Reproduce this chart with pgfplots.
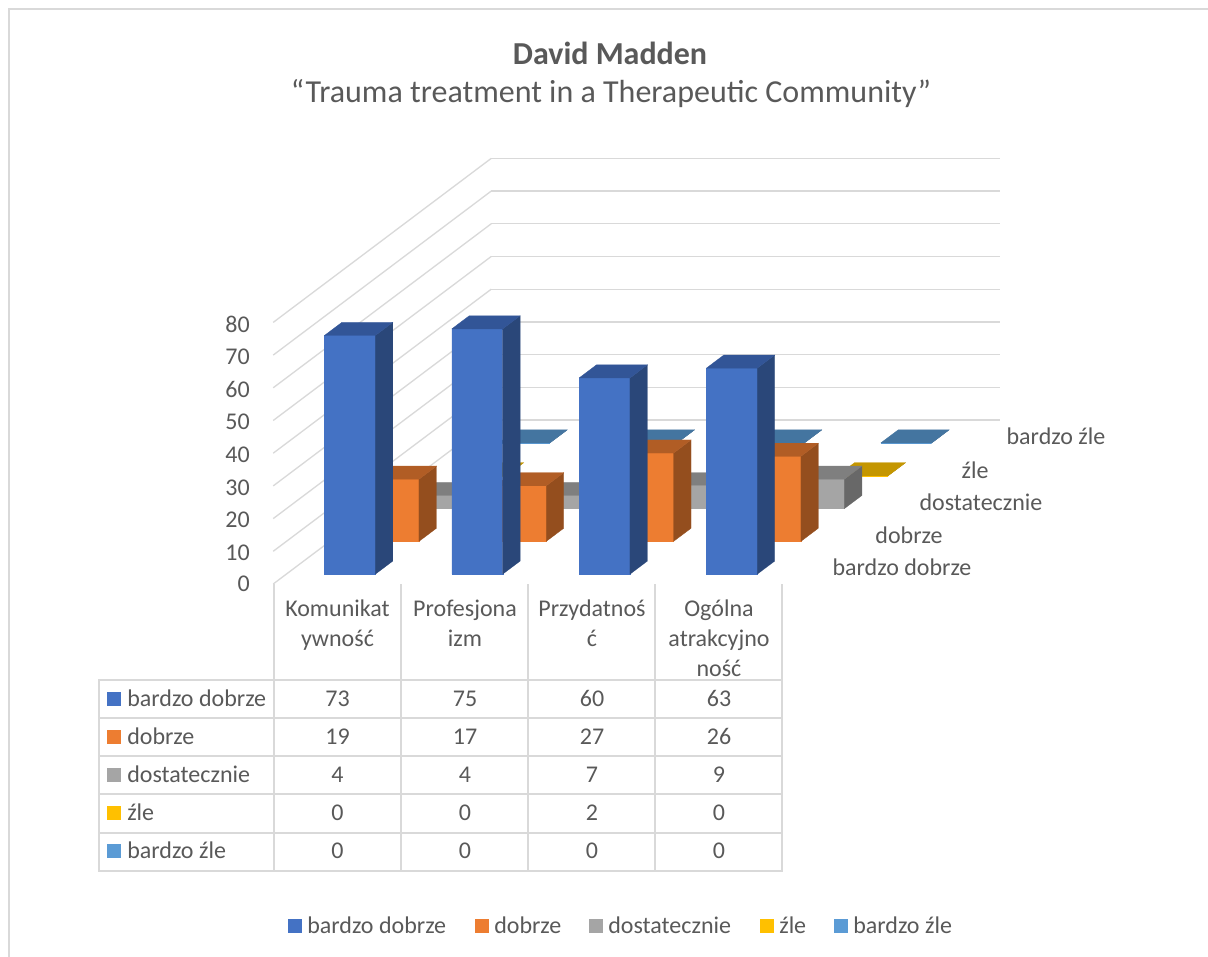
\documentclass[border=0pt]{standalone}
\usepackage{fontspec}
\setmainfont{Carlito}
\usepackage{pgfplots}
\pgfplotsset{compat=1.18}

\definecolor{txt}{HTML}{595959}
\definecolor{gridc}{HTML}{D9D9D9}
\definecolor{Afront}{HTML}{4472C4}\definecolor{Aside}{HTML}{2A4779}\definecolor{Atop}{HTML}{325597}
\definecolor{Bfront}{HTML}{ED7D31}\definecolor{Bside}{HTML}{944E1E}\definecolor{Btop}{HTML}{B15D25}
\definecolor{Cfront}{HTML}{A5A5A5}\definecolor{Cside}{HTML}{686868}\definecolor{Ctop}{HTML}{7F7F7F}
\definecolor{Dfront}{HTML}{FFC000}\definecolor{Dside}{HTML}{A17900}\definecolor{Dtop}{HTML}{C49600}
\definecolor{Efront}{HTML}{5B9BD5}\definecolor{Eside}{HTML}{396186}\definecolor{Etop}{HTML}{4475A0}

% one 3D column: category slot, series slot, value, colour prefix
\newcommand{\column}[4]{%
  \pgfmathsetmacro\xa{#1+0.3}\pgfmathsetmacro\xb{#1+0.7}%
  \pgfmathsetmacro\ya{#2+0.3}\pgfmathsetmacro\yb{#2+0.7}%
  \addplot3[fill=#4front,draw=#4front,line width=0.2pt,mark=none] coordinates {(\xa,\ya,0) (\xb,\ya,0) (\xb,\ya,#3) (\xa,\ya,#3) (\xa,\ya,0)};
  \addplot3[fill=#4side,draw=#4side,line width=0.2pt,mark=none] coordinates {(\xb,\ya,0) (\xb,\yb,0) (\xb,\yb,#3) (\xb,\ya,#3) (\xb,\ya,0)};
  \addplot3[fill=#4top,draw=#4top,line width=0.2pt,mark=none] coordinates {(\xa,\ya,#3) (\xb,\ya,#3) (\xb,\yb,#3) (\xa,\yb,#3) (\xa,\ya,#3)};
}

\begin{document}
\begin{tikzpicture}
\useasboundingbox (0,0) rectangle (906pt,-717.75pt);
\begin{axis}[
    at={(204.9pt,-438pt)}, anchor=origin,
    x={(95.475pt,0pt)}, y={(32.7pt,24.6pt)}, z={(0pt,2.4525pt)},
    xmin=0, xmax=4, ymin=0, ymax=5, zmin=0, zmax=80,
    xtick=\empty, ytick=\empty, ztick={0,10,...,80},
    zmajorgrids,
    grid style={gridc,line width=1pt},
    axis line style={draw=none},
    ztick style={draw=none},
    clip=false,
    ticklabel style={font=\fontsize{18}{21}\selectfont,text=txt,xshift=-14pt,yshift=3pt},
    /pgf/number format/assume math mode=true,
]
% series 5 (back) to series 1 (front)
\column{0}{4}{0}{E}\column{1}{4}{0}{E}\column{2}{4}{0}{E}\column{3}{4}{0}{E}
\column{0}{3}{0}{D}\column{1}{3}{0}{D}\column{2}{3}{2}{D}\column{3}{3}{0}{D}
\column{0}{2}{4}{C}\column{1}{2}{4}{C}\column{2}{2}{7}{C}\column{3}{2}{9}{C}
\column{0}{1}{19}{B}\column{1}{1}{17}{B}\column{2}{1}{27}{B}\column{3}{1}{26}{B}
\column{0}{0}{73}{A}\column{1}{0}{75}{A}\column{2}{0}{60}{A}\column{3}{0}{63}{A}
\end{axis}
\begin{scope}[x=0.75pt,y=-0.75pt,every node/.style={text=txt,font=\fontsize{18}{22.2}\selectfont,inner sep=0pt}]
\draw[gridc,line width=1pt] (9,957) -- (9,9) -- (1208,9);
\node at (610,53) {\fontsize{24}{28}\selectfont\bfseries David Madden};
\node at (611,93.5) {\fontsize{24}{28}\selectfont “Trauma treatment in a Therapeutic Community”};
% series names along the depth axis
\node[anchor=base] at (902,575) {bardzo dobrze};
\node[anchor=base] at (909,543) {dobrze};
\node[anchor=base] at (981,510) {dostatecznie};
\node[anchor=base] at (975,478) {źle};
\node[anchor=base] at (1056,444) {bardzo źle};
% data table
\draw[gridc,line width=1pt] (99,680) rectangle (782,871);
\foreach \yy in {718,756,794,833} \draw[gridc,line width=1pt] (99,\yy) -- (782,\yy);
\foreach \xx in {274,401,528,655,782} \draw[gridc,line width=1pt] (\xx,584) -- (\xx,871);
\foreach \xx/\lab in {337.5/{Komunikat\\ywność},465/{Profesjona\\izm},592/{Przydatnoś\\ć},719/{Ogólna\\atrakcyjno\\ność}}
  \node[align=center,anchor=north] at (\xx,600) {\lab};
\foreach \yy/\lab/\col/\a/\b/\c/\d in {699/bardzo dobrze/Afront/73/75/60/63,737/dobrze/Bfront/19/17/27/26,775/dostatecznie/Cfront/4/4/7/9,813/źle/Dfront/0/0/2/0,851/bardzo źle/Efront/0/0/0/0}{
  \fill[\col] (107,\yy-7) rectangle (121,\yy+7);
  \node[anchor=base west] at (127,\yy+7) {\lab};
  \node[anchor=base] at (337.5,\yy+7) {\a};
  \node[anchor=base] at (465,\yy+7) {\b};
  \node[anchor=base] at (592,\yy+7) {\c};
  \node[anchor=base] at (719,\yy+7) {\d};
}
% legend
\foreach \xx/\lab/\col in {288/bardzo dobrze/Afront,475/dobrze/Bfront,589/dostatecznie/Cfront,760/źle/Dfront,834/bardzo źle/Efront}{
  \fill[\col] (\xx,919) rectangle (\xx+14,933);
  \node[anchor=base west] at (\xx+19,933) {\lab};
}
\end{scope}
\end{tikzpicture}
\end{document}
